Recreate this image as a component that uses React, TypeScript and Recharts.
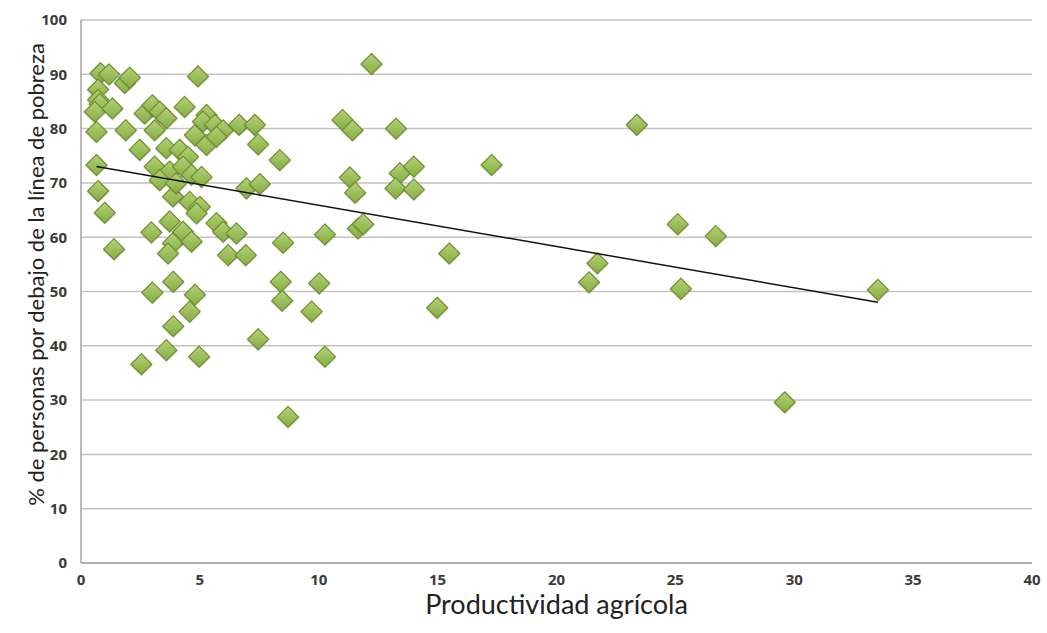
import React from "react";
import {
  ScatterChart,
  Scatter,
  XAxis,
  YAxis,
  CartesianGrid,
  Label,
} from "recharts";

// productividad agrícola (x) vs % de personas bajo la línea de pobreza (y)
const productividad = [
  0.82, 1.18, 1.84, 2.05, 0.72, 0.72, 0.79, 0.58, 1.32, 0.65, 1.88, 0.65, 0.72, 1.0, 1.39,
  2.47, 2.68, 3.0, 3.31, 3.59, 3.1, 3.59, 3.1, 3.73, 3.31, 3.87, 4.0, 2.96, 3.73, 3.87,
  3.66, 4.29, 4.65, 3.0, 3.88, 3.88, 3.59, 2.54,
  4.36, 4.15, 4.5, 4.29, 4.65, 5.07, 4.79, 4.92, 5.28, 5.13, 5.63, 5.28, 5.98, 5.7, 4.57,
  5.0, 4.86, 5.7, 5.98, 4.79, 4.57, 4.97,
  6.54, 6.19, 6.93, 6.65, 7.31, 7.45, 6.96, 7.52, 8.36, 8.5, 8.4, 8.46, 7.45, 8.71,
  9.7, 10.02, 10.26, 10.26, 11.0, 11.42, 12.22, 13.25, 11.31, 11.53, 11.65, 11.87, 13.41,
  14.0, 13.23, 14.0, 15.49, 14.98, 17.27,
  21.37, 21.72, 23.38, 25.1, 25.23, 26.7, 29.6, 33.52,
];
const pobreza = [
  90.2, 90.0, 88.4, 89.4, 87.2, 85.3, 84.5, 83.1, 83.7, 79.4, 79.7, 73.3, 68.5, 64.5, 57.8,
  76.1, 82.8, 84.3, 83.1, 81.9, 79.7, 76.4, 73.0, 72.1, 70.5, 67.5, 69.9, 60.9, 62.9, 58.9,
  57.0, 61.0, 59.2, 49.8, 51.8, 43.6, 39.2, 36.6,
  84.0, 76.1, 74.8, 73.0, 71.5, 71.1, 78.8, 89.6, 82.5, 81.3, 80.7, 77.0, 79.7, 78.5, 66.5,
  65.6, 64.4, 62.6, 61.0, 49.4, 46.3, 38.0,
  60.7, 56.7, 56.7, 80.7, 80.7, 77.1, 69.0, 69.8, 74.2, 59.0, 51.8, 48.3, 41.2, 26.9,
  46.3, 51.5, 38.0, 60.5, 81.6, 79.7, 91.9, 80.0, 71.0, 68.2, 61.6, 62.4, 71.8,
  73.0, 69.0, 68.8, 57.0, 47.0, 73.3,
  51.7, 55.2, 80.7, 62.4, 50.5, 60.2, 29.6, 50.3,
];

// línea de tendencia (extremos)
const tendenciaX = [0.65, 33.52];
const tendenciaY = [73.0, 48.0];

const xTicks = [0, 5, 10, 15, 20, 25, 30, 35, 40];
const yTicks = [0, 10, 20, 30, 40, 50, 60, 70, 80, 90, 100];

const puntos = productividad.map((x, i) => ({ x, y: pobreza[i] }));
const tendencia = tendenciaX.map((x, i) => ({ x, y: tendenciaY[i] }));

const GRID = "#c9c1c1";
const TICK_STYLE = {
  fontFamily: "'Open Sans', sans-serif",
  fontSize: 15,
  fontWeight: 700,
  fill: "#3a3a3a",
};

// eslint-disable-next-line @typescript-eslint/no-explicit-any
function Diamond(props: any) {
  const { cx, cy } = props;
  if (cx === undefined || cy === undefined) return null;
  const r = 10.5;
  return (
    <g>
      <polygon
        points={`${cx},${cy - r + 1.5} ${cx + r + 1},${cy + 1.5} ${cx},${cy + r + 1.5} ${cx - r - 1},${cy + 1.5}`}
        fill="#000"
        opacity={0.12}
      />
      <polygon
        points={`${cx},${cy - r} ${cx + r},${cy} ${cx},${cy + r} ${cx - r},${cy}`}
        fill="url(#diamondFill)"
        stroke="#6f8f33"
        strokeWidth={1.2}
      />
    </g>
  );
}

// eslint-disable-next-line @typescript-eslint/no-explicit-any
function YTitle(props: any) {
  const vb = props.viewBox || {};
  const x = 35;
  const y = vb.y + vb.height / 2 - 17;
  return (
    <text
      x={x}
      y={y}
      transform={`rotate(-90 ${x} ${y})`}
      textAnchor="middle"
      dominantBaseline="central"
      style={{ fontFamily: "Lato, sans-serif", fontSize: 22, fill: "#222" }}
    >
      % de personas por debajo de la línea de pobreza
    </text>
  );
}

export default function App() {
  return (
    <div style={{ position: "absolute", left: 0, top: 0, background: "#fff" }}>
      <ScatterChart
        width={1047}
        height={633}
        margin={{ top: 20, right: 15, bottom: 40, left: 0 }}
      >
        <defs>
          <linearGradient id="diamondFill" x1="0" y1="0" x2="0" y2="1">
            <stop offset="0%" stopColor="#b3d277" />
            <stop offset="100%" stopColor="#86ad40" />
          </linearGradient>
        </defs>
        <CartesianGrid
          vertical={false}
          horizontal
          stroke={GRID}
          strokeWidth={1.5}
        />
        <XAxis
          type="number"
          dataKey="x"
          domain={[0, 40]}
          ticks={xTicks}
          interval={0}
          height={30}
          tickSize={0}
          tickMargin={11}
          tick={TICK_STYLE}
          axisLine={{ stroke: "#a9a1a1", strokeWidth: 1.5 }}
          tickLine={false}
        >
          <Label
            value="Productividad agrícola"
            position="bottom"
            offset={2}
            style={{ fontFamily: "Lato, sans-serif", fontSize: 27, fill: "#222" }}
          />
        </XAxis>
        <YAxis
          type="number"
          dataKey="y"
          domain={[0, 100]}
          ticks={yTicks}
          interval={0}
          width={81}
          tickSize={0}
          tickMargin={14}
          tick={TICK_STYLE}
          axisLine={{ stroke: "#a9a1a1", strokeWidth: 1.5 }}
          tickLine={false}
        >
          <Label content={<YTitle />} />
        </YAxis>
        <Scatter
          data={puntos}
          shape={<Diamond />}
          isAnimationActive={false}
        />
        <Scatter
          data={tendencia}
          line={{ stroke: "#111", strokeWidth: 1.5 }}
          shape={() => <g />}
          isAnimationActive={false}
        />
      </ScatterChart>
    </div>
  );
}
